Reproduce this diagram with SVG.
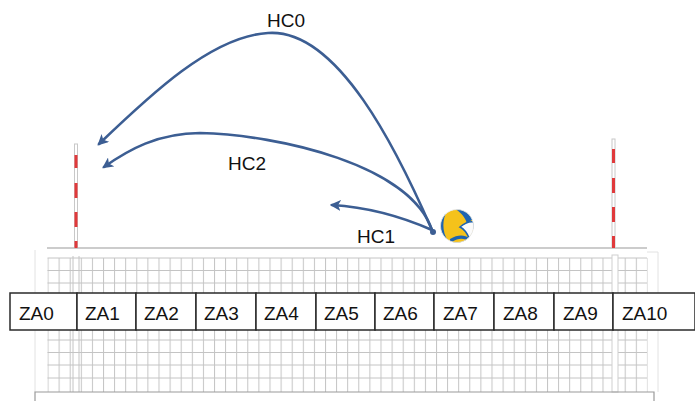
<svg xmlns="http://www.w3.org/2000/svg" width="695" height="401" viewBox="0 0 695 401">
  <style>
    .lbl { font-family: "Liberation Sans", Arial, sans-serif; font-size: 19px; fill: #111; }
    .zone rect { fill: #fff; stroke: #2a2a2a; stroke-width: 1.5; }
    .mesh { stroke: #c4c4c4; stroke-width: 1; fill: none; }
    .edge { stroke: #9a9a9a; stroke-width: 1.2; fill: none; }
    .faint { stroke: #e2e2e2; stroke-width: 1; fill: none; }
    .pole { fill: #fff; stroke: #c8c8c8; stroke-width: 1; }
    .stripe { fill: #e0393b; }
    .traj { fill: none; stroke: #3c5e93; stroke-width: 2.6; stroke-linecap: round; }
  </style>
  <defs>
    <pattern id="netCols" patternUnits="userSpaceOnUse" x="47.5" y="0" width="11.1" height="10">
      <path d="M0.5,0V10" stroke="#c4c4c4" stroke-width="1"/>
    </pattern>
    <marker id="head" viewBox="0 0 10 10" refX="8" refY="5" markerWidth="4.2" markerHeight="4.2" orient="auto-start-reverse" markerUnits="strokeWidth">
      <path d="M0,0 L10,5 L0,10 L2.5,5 Z" fill="#3c5e93"/>
    </marker>
    <clipPath id="ballClip"><circle cx="0" cy="0" r="16.5"/></clipPath>
  </defs>

  <!-- net -->
  <g id="net">
    <path class="faint" d="M35,250V392 M647,252H658V392"/>
    <rect x="47.5" y="258" width="600" height="134" fill="url(#netCols)"/>
    <path class="mesh" d="M47.5,258H647 M47.5,270.5H647 M47.5,283H647 M47.5,340H647 M47.5,352.5H647 M47.5,365H647 M47.5,378H647"/>
    <path class="mesh" d="M73,256V392 M79,256V392"/>
    <rect x="612" y="255" width="6" height="137" fill="#fff" stroke="#cfcfcf" stroke-width="1"/>
    <path class="edge" d="M47,248H647"/>
    <path class="edge" d="M35,401V392H654V401"/>
  </g>

  <!-- antennas -->
  <g id="pole-left">
    <rect class="pole" x="74.5" y="144" width="3" height="104"/>
    <rect class="stripe" x="74.5" y="155" width="3" height="13"/>
    <rect class="stripe" x="74.5" y="183" width="3" height="15"/>
    <rect class="stripe" x="74.5" y="212" width="3" height="15"/>
    <rect class="stripe" x="74.5" y="241" width="3" height="7"/>
  </g>
  <g id="pole-right">
    <rect class="pole" x="612" y="139" width="3" height="109"/>
    <rect class="stripe" x="612" y="149" width="3" height="14"/>
    <rect class="stripe" x="612" y="178" width="3" height="15"/>
    <rect class="stripe" x="612" y="207" width="3" height="15"/>
    <rect class="stripe" x="612" y="236" width="3" height="12"/>
  </g>

  <!-- attack zones -->
  <g id="zones" class="zone">
    <g id="ZA0"><rect x="10" y="293" width="67" height="37"/><text class="lbl" x="19" y="320">ZA0</text></g>
    <g id="ZA1"><rect x="77" y="293" width="59" height="37"/><text class="lbl" x="85" y="320">ZA1</text></g>
    <g id="ZA2"><rect x="136" y="293" width="60" height="37"/><text class="lbl" x="144" y="320">ZA2</text></g>
    <g id="ZA3"><rect x="196" y="293" width="60" height="37"/><text class="lbl" x="204" y="320">ZA3</text></g>
    <g id="ZA4"><rect x="256" y="293" width="60" height="37"/><text class="lbl" x="264" y="320">ZA4</text></g>
    <g id="ZA5"><rect x="316" y="293" width="59" height="37"/><text class="lbl" x="324" y="320">ZA5</text></g>
    <g id="ZA6"><rect x="375" y="293" width="59" height="37"/><text class="lbl" x="383" y="320">ZA6</text></g>
    <g id="ZA7"><rect x="434" y="293" width="60" height="37"/><text class="lbl" x="443" y="320">ZA7</text></g>
    <g id="ZA8"><rect x="494" y="293" width="60" height="37"/><text class="lbl" x="503" y="320">ZA8</text></g>
    <g id="ZA9"><rect x="554" y="293" width="59" height="37"/><text class="lbl" x="563" y="320">ZA9</text></g>
    <g id="ZA10"><rect x="613" y="293" width="82" height="37"/><text class="lbl" x="622" y="320">ZA10</text></g>
  </g>

  <!-- ball: yellow/blue panels with one white panel -->
  <g id="ball" transform="translate(457,226)">
    <g clip-path="url(#ballClip)">
      <circle r="16.5" fill="#f5c21b"/>
      <!-- left blue crescent -->
      <path d="M-10,-15 C-15,-6 -15,6 -9,15 L-18,15 L-18,-15Z" fill="#1f64b0"/>
      <!-- top-right blue panel -->
      <path d="M-3,-18 C5,-13 9,-7 10,-2 C13,-5 16,-7 18,-8 L18,-18Z" fill="#1f64b0"/>
      <!-- white panel -->
      <path d="M3,1 C8,-3 13,-5 17,-4 L17,6 C16,9 14,11 12,12 C10,7 7,3 3,1Z" fill="#fbfbfb" stroke="#1f64b0" stroke-width="1.6"/>
      <!-- bottom blue band -->
      <path d="M-7,13 C1,8 8,9 12,12 L14,18 L-7,18Z" fill="#1f64b0"/>
      <path d="M-5,16 C1,12 7,12 11,15 L11,18 L-5,18Z" fill="#f5c21b"/>
    </g>
    <circle r="16.5" fill="none" stroke="#e6e6e6" stroke-width="0.8"/>
  </g>

  <!-- hit trajectories -->
  <g id="connectors">
    <path id="HC0-path" class="traj" marker-end="url(#head)" d="M432,230 C398,152 338,28 268,33 C212,36 150,95 99,144"/>
    <path id="HC2-path" class="traj" marker-end="url(#head)" d="M432,230 C410,165 280,135 200,133 C158,133 128,150 104,167"/>
    <path id="HC1-path" class="traj" marker-end="url(#head)" d="M432,230 Q382,208 332,205"/>
    <circle cx="433" cy="232" r="3" fill="#3c5e93"/>
  </g>

  <!-- labels -->
  <g id="labels">
    <text class="lbl" x="267" y="27">HC0</text>
    <text class="lbl" x="228" y="170">HC2</text>
    <text class="lbl" x="357" y="243">HC1</text>
  </g>
</svg>
